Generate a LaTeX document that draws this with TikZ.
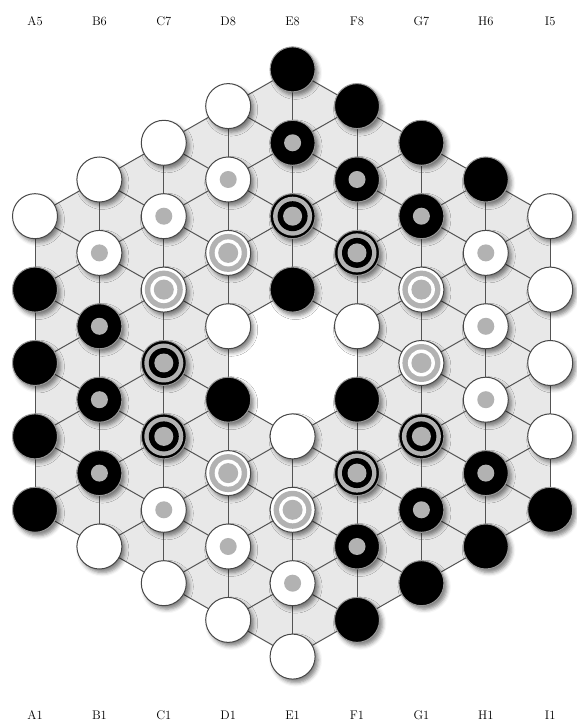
\documentclass[tikz,border=0pt]{standalone}
\usetikzlibrary{shadows.blur}
\definecolor{boardgray}{gray}{0.91}
\definecolor{linegray}{gray}{0.33}
\definecolor{dotgray}{gray}{0.70}

\begin{document}
\begin{tikzpicture}[x=1pt,y=1pt,
  lbl/.style={font=\fontsize{12.5}{14}\selectfont},
  grid/.style={draw=linegray,line width=1pt},
  disc/.style={circle,minimum size=45pt,inner sep=0pt,line width=1pt,
    blur shadow={shadow xshift=3pt,shadow yshift=-3.5pt,shadow blur radius=4pt,shadow opacity=50}},
  W/.style={disc,fill=white,draw=black!72},
  B/.style={disc,fill=black,draw=black!40},
  Wd/.style={W,path picture={\fill[dotgray] (path picture bounding box.center) circle (8.5pt);}},
  Bd/.style={B,path picture={\fill[dotgray] (path picture bounding box.center) circle (8.5pt);}},
  Wr/.style={W,path picture={
    \fill[dotgray] (path picture bounding box.center) circle (19pt);
    \fill[white] (path picture bounding box.center) circle (13.5pt);
    \fill[dotgray] (path picture bounding box.center) circle (10pt);}},
  Br/.style={B,path picture={
    \fill[dotgray] (path picture bounding box.center) circle (19.5pt);
    \fill[black] (path picture bounding box.center) circle (15pt);
    \fill[dotgray] (path picture bounding box.center) circle (9.5pt);}}]
  \useasboundingbox (0,0) rectangle (576,728);
  % Cells of the board, column by column (E has the hole at E-5)
  \foreach \col/\n [count=\c from 0] in {A/5,B/6,C/7,D/8,E/9,F/8,G/7,H/6,I/5}
    \foreach \k in {1,...,\n}
      \coordinate (\col-\k) at ({35+64.4*\c},{365+(\k-(\n+1)/2)*73.4});
  % Board and hole
  \fill[boardgray] (A-1) -- (A-5) -- (E-9) -- (I-5) -- (I-1) -- (E-1) -- cycle;
  \fill[white] (D-4) -- (D-5) -- (E-6) -- (F-5) -- (F-4) -- (E-4) -- cycle;
  % Lines: columns, rising and falling diagonals
  \foreach \a/\b in {A-1/A-5,B-1/B-6,C-1/C-7,D-1/D-8,E-1/E-4,E-6/E-9,F-1/F-8,G-1/G-7,H-1/H-6,I-1/I-5}
    \draw[grid] (\a) -- (\b);
  \foreach \a/\b in {A-1/D-4,F-5/I-5,A-2/H-6,A-3/G-7,A-4/F-8,A-5/E-9,B-1/I-4,C-1/I-3,D-1/I-2,E-1/I-1}
    \draw[grid] (\a) -- (\b);
  \foreach \a/\b in {A-5/D-5,F-4/I-1,A-4/H-1,A-3/G-1,A-2/F-1,A-1/E-1,B-6/I-2,C-7/I-3,D-8/I-4,E-9/I-5}
    \draw[grid] (\a) -- (\b);
  % Pieces, bottom to top
  \foreach \col/\first/\kinds in {A/1/{B,B,B,B,W},B/1/{W,Bd,Bd,Bd,Wd,W},C/1/{W,Wd,Br,Br,Wr,Wd,W},
      D/1/{W,Wd,Wr,B,W,Wr,Wd,W},E/1/{W,Wd,Wr,W},E/6/{B,Br,Bd,B},F/1/{B,Bd,Br,B,W,Br,Bd,B},
      G/1/{B,Bd,Br,Wr,Wr,Bd,B},H/1/{B,Bd,Wd,Wd,Wd,B},I/1/{B,W,W,W,W}}
    \foreach \kind [count=\k from \first] in \kinds
      \node[\kind] (\col\k) at (\col-\k) {};
  % Column labels
  \foreach \col/\top [count=\c from 0] in {A/5,B/6,C/7,D/8,E/8,F/8,G/7,H/6,I/5} {
    \node[lbl] (top-\col) at ({35+64.4*\c},707) {\col\top};
    \node[lbl] (bot-\col) at ({35+64.4*\c},13) {\col1};
  }
\end{tikzpicture}
\end{document}
